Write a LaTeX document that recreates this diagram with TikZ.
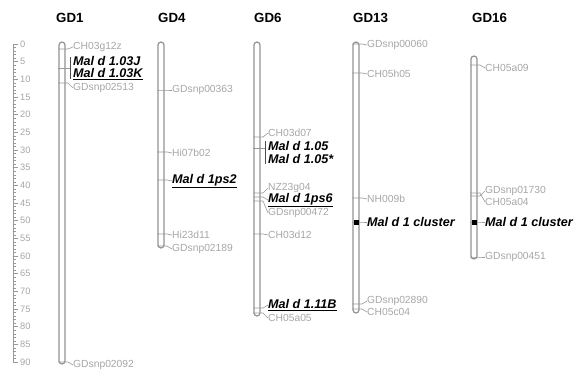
\documentclass[tikz,border=0pt]{standalone}
\usepackage{fontspec}
\setmainfont{Liberation Sans}
\newcommand{\mrk}[6]{% name, bar right x, y of mark, y of label, style, text
  \coordinate (#1m) at (#2-7,#3);
  \node[#5] (#1) at (#2+8,#4) {#6};
  \draw[conn] (#1m) -- ++(10,0) -- (#1.west);
}
\begin{document}
\begin{tikzpicture}[x=1pt,y=-1pt,
  bar/.style={draw=gray!85, line width=1.2pt, rounded corners=3pt, fill=white},
  mk/.style={font=\fontsize{10.3}{11}\selectfont, text=gray!70, anchor=west, inner sep=0pt},
  mal/.style={font=\fontsize{12.6}{13}\selectfont\bfseries\itshape, anchor=west, inner sep=0pt},
  ttl/.style={font=\fontsize{13.3}{14}\selectfont\bfseries, anchor=west, inner sep=0pt},
  conn/.style={draw=gray!80, line width=0.6pt},
  brk/.style={draw=gray!60!black, line width=0.8pt},
  scl/.style={font=\fontsize{9.3}{10}\selectfont, text=gray!70, anchor=west, inner sep=0pt}]
\useasboundingbox (0,0) rectangle (578,372);
% scale
\coordinate (s0) at (13,44);
\coordinate (s90) at (13,362);
\draw[draw=gray!80, line width=0.6pt] (s0) -- (s90);
\foreach \i in {0,...,90} {
  \draw[gray!80, line width=0.4pt] (13,44+\i*3.5333) -- ++(2.5,0);
}
\foreach \i in {0,5,...,90} {
  \draw[gray!80, line width=0.6pt] (13,44+\i*3.5333) -- ++(4.5,0);
  \node[scl] (sc\i) at (20,44+\i*3.5333) {\i};
}
% titles
\node[ttl] (t1) at (56,18) {GD1};
\node[ttl] (t4) at (158,18) {GD4};
\node[ttl] (t6) at (254,18) {GD6};
\node[ttl] (t13) at (353,18) {GD13};
\node[ttl] (t16) at (472,18) {GD16};
% bars
\draw[bar] (59,42) rectangle (65,364);
\draw[bar] (158,42) rectangle (164,248);
\draw[bar] (254,42) rectangle (260,316);
\draw[bar] (353,42) rectangle (359,313);
\draw[bar] (471,56) rectangle (477,259);
% GD1
\mrk{a1}{65}{49}{47}{mk}{CH03g12z}
\coordinate (a2m) at (58,68);
\coordinate (a2b) at (70,68);
\draw[conn] (a2m) -- (a2b);
\coordinate (a2t) at (70,57);
\coordinate (a2u) at (70,79);
\draw[brk] (a2t) -- (a2u);
\node[mal] (a2) at (73,61) {Mal d 1.03J};
\node[mal] (a3) at (73,74) {\underline{Mal d 1.03K}};
\mrk{a4}{65}{83}{88}{mk}{GDsnp02513}
\mrk{a5}{65}{362}{365}{mk}{GDsnp02092}
% GD4
\mrk{b1}{164}{90}{90}{mk}{GDsnp00363}
\mrk{b2}{164}{152}{153}{mk}{Hi07b02}
\mrk{b3}{164}{180}{181}{mal}{\underline{Mal d 1ps2}}
\mrk{b4}{164}{234}{235}{mk}{Hi23d11}
\mrk{b5}{164}{246}{249}{mk}{GDsnp02189}
% GD6
\mrk{c1}{260}{137}{133}{mk}{CH03d07}
\coordinate (c2m) at (253,148);
\coordinate (c2b) at (265,148);
\draw[conn] (c2m) -- (c2b);
\coordinate (c2t) at (265,141);
\coordinate (c2u) at (265,164);
\draw[brk] (c2t) -- (c2u);
\node[mal] (c2) at (268,146) {Mal d 1.05};
\node[mal] (c3) at (268,159) {Mal d 1.05*};
\mrk{c4}{260}{193}{188}{mk}{NZ23g04}
\mrk{c5}{260}{197}{200}{mal}{\underline{Mal d 1ps6}}
\mrk{c6}{260}{201}{213}{mk}{GDsnp00472}
\mrk{c7}{260}{234}{235}{mk}{CH03d12}
\mrk{c8}{260}{308}{305}{mal}{\underline{Mal d 1.11B}}
\mrk{c9}{260}{313}{318}{mk}{CH05a05}
% GD13
\mrk{d1}{359}{44}{45}{mk}{GDsnp00060}
\mrk{d2}{359}{73}{74}{mk}{CH05h05}
\mrk{d3}{359}{198}{199}{mk}{NH009b}
\mrk{d4}{359}{222}{222}{mal}{Mal d 1 cluster}
\node[fill=black, minimum size=5pt, inner sep=0pt] (d4s) at (356,222) {};
\mrk{d5}{359}{304}{301}{mk}{GDsnp02890}
\mrk{d6}{359}{309}{312}{mk}{CH05c04}
% GD16
\mrk{e1}{477}{65}{68}{mk}{CH05a09}
\mrk{e2}{477}{196}{191}{mk}{GDsnp01730}
\mrk{e3}{477}{193}{202}{mk}{CH05a04}
\mrk{e4}{477}{222}{222}{mal}{Mal d 1 cluster}
\node[fill=black, minimum size=5pt, inner sep=0pt] (e4s) at (474,222) {};
\mrk{e5}{477}{257}{257}{mk}{GDsnp00451}
\end{tikzpicture}
\end{document}
